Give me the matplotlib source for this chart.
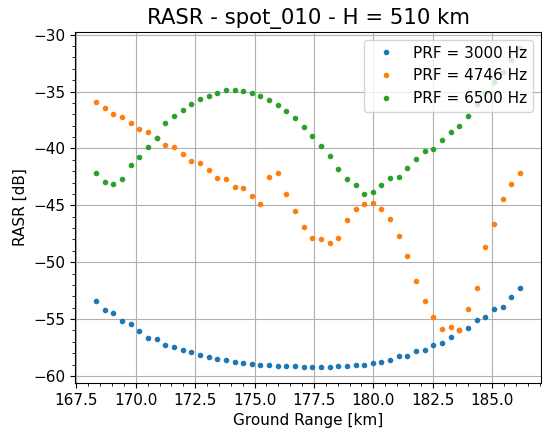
import numpy as np
import matplotlib
matplotlib.use("Agg")
import matplotlib.pyplot as plt
from matplotlib.ticker import MultipleLocator

# ground range samples [km]
ground_range = np.linspace(168.33, 186.17, 50)

rasr_3000 = [
    -53.41, -54.23, -54.49, -55.20, -55.43, -56.08, -56.64, -56.78, -57.25, -57.43,
    -57.75, -57.90, -58.16, -58.31, -58.49, -58.58, -58.75, -58.84, -58.96, -59.02,
    -59.05, -59.13, -59.13, -59.16, -59.22, -59.22, -59.22, -59.22, -59.13, -59.16,
    -59.05, -59.05, -58.87, -58.81, -58.63, -58.28, -58.22, -57.84, -57.69, -57.28,
    -57.14, -56.61, -55.99, -55.76, -55.08, -54.85, -54.14, -53.91, -53.03, -52.23,
]
rasr_4746 = [
    -35.94, -36.41, -36.97, -37.20, -37.76, -38.29, -38.53, -39.09, -39.67, -39.85,
    -40.47, -41.09, -41.24, -41.88, -42.56, -42.68, -43.38, -43.47, -44.18, -44.88,
    -42.47, -42.18, -43.97, -45.50, -46.88, -47.91, -47.97, -48.33, -47.85, -46.26,
    -45.35, -44.91, -44.76, -45.29, -46.17, -47.71, -49.47, -51.65, -53.45, -54.82,
    -55.86, -55.71, -55.97, -54.15, -52.24, -48.68, -46.65, -44.47, -43.15, -42.15,
]
rasr_6500 = [
    -42.20, -42.97, -43.17, -42.73, -41.50, -40.79, -39.88, -39.09, -37.79, -37.14,
    -36.59, -36.09, -35.67, -35.35, -35.15, -34.88, -34.88, -34.97, -35.15, -35.41,
    -35.76, -36.20, -36.73, -37.35, -38.14, -38.91, -39.77, -40.68, -41.85, -42.71,
    -43.21, -43.97, -43.85, -43.23, -42.59, -42.53, -41.71, -40.94, -40.23, -40.03,
    -39.26, -38.56, -38.00, -37.12, -36.09, -35.09, -34.12, -33.32, -32.20, -31.17,
]
prf_labels = ["PRF = 3000 Hz", "PRF = 4746 Hz", "PRF = 6500 Hz"]

fig = plt.figure(figsize=(5.42, 4.32), dpi=100)
ax = fig.add_axes([75 / 542, 49 / 432, 466 / 542, 351 / 432])

for vals, lab in zip([rasr_3000, rasr_4746, rasr_6500], prf_labels):
    ax.plot(ground_range, vals, ".", label=lab)

ax.set_title("RASR - spot_010 - H = 510 km", fontsize=15.3)
ax.set_xlabel("Ground Range [km]", fontsize=11)
ax.set_ylabel("RASR [dB]", fontsize=11)
ax.tick_params(labelsize=11)
ax.xaxis.set_major_locator(MultipleLocator(2.5))
ax.xaxis.set_minor_locator(MultipleLocator(0.5))
ax.yaxis.set_major_locator(MultipleLocator(5))
ax.yaxis.set_minor_locator(MultipleLocator(1))
ax.grid(True, which="major")
ax.legend(loc="upper right", fontsize=11)

fig.savefig("out.png", dpi=100)
